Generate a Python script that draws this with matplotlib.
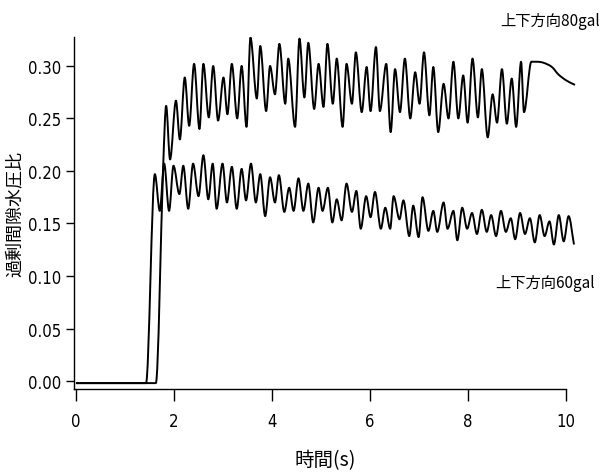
import matplotlib
matplotlib.use("Agg")
import matplotlib.pyplot as plt
from matplotlib.path import Path
from matplotlib.patches import PathPatch

plt.rcParams['font.family'] = ['Noto Sans CJK JP', 'DejaVu Sans']

# 上下方向80gal: peaks / troughs
t80 = [0, 1.63, 1.78, 1.84, 1.92, 2.04, 2.12, 2.22, 2.31, 2.41, 2.52, 2.60, 2.71,
       2.80, 2.90, 3.01, 3.09, 3.18, 3.29, 3.38, 3.48, 3.56, 3.69, 3.76, 3.88,
       3.96, 4.06, 4.15, 4.27, 4.33, 4.47, 4.56, 4.66, 4.74, 4.86, 4.95, 5.05,
       5.13, 5.24, 5.32, 5.44, 5.52, 5.63, 5.71, 5.83, 5.93, 6.01, 6.12, 6.20,
       6.33, 6.42, 6.51, 6.61, 6.71, 6.82, 6.92, 7.01, 7.10, 7.21, 7.29, 7.39,
       7.50, 7.60, 7.70, 7.80, 7.90, 7.99, 8.09, 8.20, 8.28, 8.40, 8.50, 8.59,
       8.69, 8.79, 8.89, 8.98, 9.08, 9.14, 9.29, 9.40, 9.54, 9.71, 9.84, 10.01,
       10.18]
v80 = [-0.002, -0.002, 0.205, 0.262, 0.211, 0.267, 0.230, 0.289, 0.243, 0.302,
       0.240, 0.302, 0.251, 0.300, 0.248, 0.289, 0.254, 0.302, 0.250, 0.300,
       0.242, 0.327, 0.269, 0.319, 0.257, 0.300, 0.273, 0.321, 0.264, 0.307,
       0.242, 0.326, 0.270, 0.322, 0.259, 0.302, 0.261, 0.321, 0.264, 0.307,
       0.242, 0.302, 0.264, 0.313, 0.256, 0.299, 0.257, 0.318, 0.257, 0.302,
       0.237, 0.297, 0.256, 0.307, 0.250, 0.294, 0.264, 0.313, 0.253, 0.299,
       0.237, 0.283, 0.250, 0.304, 0.250, 0.291, 0.246, 0.307, 0.251, 0.297,
       0.232, 0.273, 0.246, 0.297, 0.245, 0.288, 0.242, 0.304, 0.256, 0.304,
       0.304, 0.303, 0.299, 0.292, 0.286, 0.282]

# 上下方向60gal
t60 = [0, 1.43, 1.61, 1.71, 1.80, 1.90, 1.99, 2.11, 2.19, 2.29, 2.39, 2.50, 2.60,
       2.70, 2.79, 2.87, 2.99, 3.08, 3.18, 3.28, 3.38, 3.47, 3.57, 3.67, 3.76,
       3.86, 3.96, 4.06, 4.14, 4.25, 4.35, 4.44, 4.54, 4.64, 4.74, 4.84, 4.95,
       5.03, 5.14, 5.23, 5.32, 5.42, 5.52, 5.63, 5.72, 5.81, 5.92, 6.01, 6.10,
       6.22, 6.31, 6.41, 6.48, 6.60, 6.68, 6.80, 6.88, 6.99, 7.07, 7.19, 7.29,
       7.37, 7.50, 7.58, 7.70, 7.78, 7.88, 7.98, 8.08, 8.18, 8.28, 8.38, 8.47,
       8.57, 8.67, 8.77, 8.87, 8.96, 9.06, 9.16, 9.26, 9.36, 9.46, 9.56, 9.66,
       9.75, 9.85, 9.95, 10.05, 10.16]
v60 = [-0.002, -0.002, 0.197, 0.162, 0.207, 0.162, 0.205, 0.178, 0.205, 0.164,
       0.207, 0.176, 0.215, 0.173, 0.207, 0.164, 0.207, 0.170, 0.204, 0.164,
       0.202, 0.172, 0.207, 0.170, 0.197, 0.157, 0.194, 0.170, 0.196, 0.161,
       0.184, 0.162, 0.193, 0.162, 0.188, 0.151, 0.184, 0.162, 0.184, 0.151,
       0.173, 0.153, 0.188, 0.161, 0.181, 0.145, 0.176, 0.156, 0.180, 0.145,
       0.165, 0.145, 0.176, 0.154, 0.172, 0.138, 0.167, 0.137, 0.175, 0.143,
       0.162, 0.142, 0.170, 0.145, 0.162, 0.134, 0.165, 0.145, 0.160, 0.140,
       0.163, 0.142, 0.158, 0.138, 0.162, 0.142, 0.155, 0.135, 0.160, 0.140,
       0.155, 0.132, 0.158, 0.138, 0.152, 0.130, 0.158, 0.133, 0.157, 0.130]

xticks = [0, 2, 4, 6, 8, 10]
yticks = [0.00, 0.05, 0.10, 0.15, 0.20, 0.25, 0.30]


def smooth_path(t, v):
    # bezier curve through the read points, flat at peaks and troughs
    n = len(t)
    slope = []
    for i in range(n):
        if i == 0:
            m = (v[1] - v[0]) / (t[1] - t[0])
        elif i == n - 1:
            m = (v[i] - v[i - 1]) / (t[i] - t[i - 1])
        elif (v[i] - v[i - 1]) * (v[i + 1] - v[i]) <= 0:
            m = 0.0
        else:
            m = (v[i + 1] - v[i - 1]) / (t[i + 1] - t[i - 1])
        slope.append(m)
    verts = [(t[0], v[0])]
    codes = [Path.MOVETO]
    for i in range(n - 1):
        d = (t[i + 1] - t[i]) / 3
        verts += [(t[i] + d, v[i] + d * slope[i]),
                  (t[i + 1] - d, v[i + 1] - d * slope[i + 1]),
                  (t[i + 1], v[i + 1])]
        codes += [Path.CURVE4] * 3
    return Path(verts, codes)


fig = plt.figure(figsize=(6.16, 4.77), dpi=100)
ax = fig.add_axes([0.1201, 0.1824, 0.8149, 0.738])

for t, v in [(t80, v80), (t60, v60)]:
    ax.add_patch(PathPatch(smooth_path(t, v), facecolor="none",
                           edgecolor="black", lw=1.4, joinstyle="round"))

ax.set_xlim(-0.04, 10.2)
ax.set_ylim(-0.0076, 0.3276)

# only left and bottom axis lines, like the scanned figure
ax.spines["top"].set_visible(False)
ax.spines["right"].set_visible(False)
ax.spines["bottom"].set_bounds(-0.04, 10)
ax.spines["left"].set_linewidth(1.0)
ax.spines["bottom"].set_linewidth(1.0)

ax.set_xticks(xticks)
ax.set_yticks(yticks)
ax.set_xticklabels([str(x) for x in xticks])
ax.set_yticklabels(["%.2f" % y for y in yticks])
ax.tick_params(axis="x", direction="out", length=8.5, width=1.0, pad=8, labelsize=12)
ax.tick_params(axis="y", direction="out", length=5.5, width=1.0, pad=4, labelsize=12)
for lab in ax.get_xticklabels() + ax.get_yticklabels():
    lab.set_family(["DejaVu Sans"])
    lab.set_stretch("condensed")

ax.set_xlabel("時間(s)", fontsize=14, labelpad=14)
ax.set_ylabel("過剰間隙水圧比", fontsize=13)
ax.yaxis.set_label_coords(-0.1, 0.5)

# series labels
ax.text(10.68, 0.343, "上下方向80gal", fontsize=11, ha="right", va="center",
        clip_on=False)
ax.text(10.59, 0.094, "上下方向60gal", fontsize=11, ha="right", va="center",
        clip_on=False)

fig.savefig("out.png", dpi=100)
